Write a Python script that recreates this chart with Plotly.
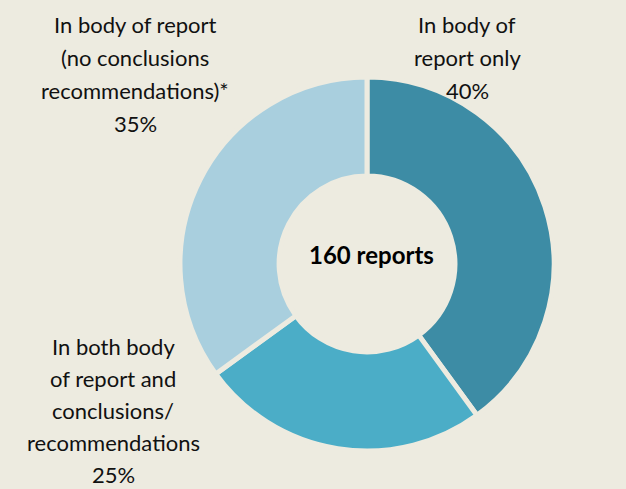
import plotly.graph_objects as go

categories = ["In body of report only",
              "In both body of report and conclusions/recommendations",
              "In body of report (no conclusions recommendations)*"]
values = [40, 25, 35]
colors = ["#3D8CA5", "#4BADC7", "#A9CFDE"]
label_lines = [
    ["In body of", "report only", "40%"],
    ["In both body", "of report and", "conclusions/", "recommendations", "25%"],
    ["In body of report", "(no conclusions", "recommendations)*", "35%"],
]
center_text = "160 reports"

BG = "#EDEBE0"
W, H = 626, 489

fig = go.Figure(go.Pie(
    labels=categories, values=values, sort=False, direction="clockwise",
    rotation=0, hole=0.47, textinfo="none", hoverinfo="label+percent",
    marker=dict(colors=colors, line=dict(color=BG, width=5)),
    domain=dict(x=[(367 - 187) / W, (367 + 187) / W],
                y=[1 - 451 / H, 1 - 77 / H]),
    showlegend=False,
))

# label block positions (center x px, first line center y px, line height)
block_pos = [(467, 24, 33), (113, 346, 32), (135, 24, 33)]
annotations = []
for lines, (cx, y0, lh) in zip(label_lines, block_pos):
    for i, ln in enumerate(lines):
        annotations.append(dict(
            text=ln, x=cx / W, y=1 - (y0 + i * lh) / H,
            xref="paper", yref="paper", showarrow=False,
            xanchor="center", yanchor="middle", borderpad=0,
            font=dict(family="Lato", size=22, color="#111111")))
annotations.append(dict(
    text="<b>" + center_text + "</b>", x=372 / W, y=1 - 254 / H,
    xref="paper", yref="paper", showarrow=False,
    xanchor="center", yanchor="middle",
    font=dict(family="Lato", size=24, color="#000000")))

fig.update_layout(
    width=W, height=H, margin=dict(l=0, r=0, t=0, b=0),
    paper_bgcolor=BG, plot_bgcolor=BG, annotations=annotations,
)
fig.write_html("out.html", config={"displayModeBar": False}, post_script=(
    "document.body.style.margin='0';"
    "document.body.style.background='" + BG + "';"
    "document.body.style.overflow='hidden';"))
